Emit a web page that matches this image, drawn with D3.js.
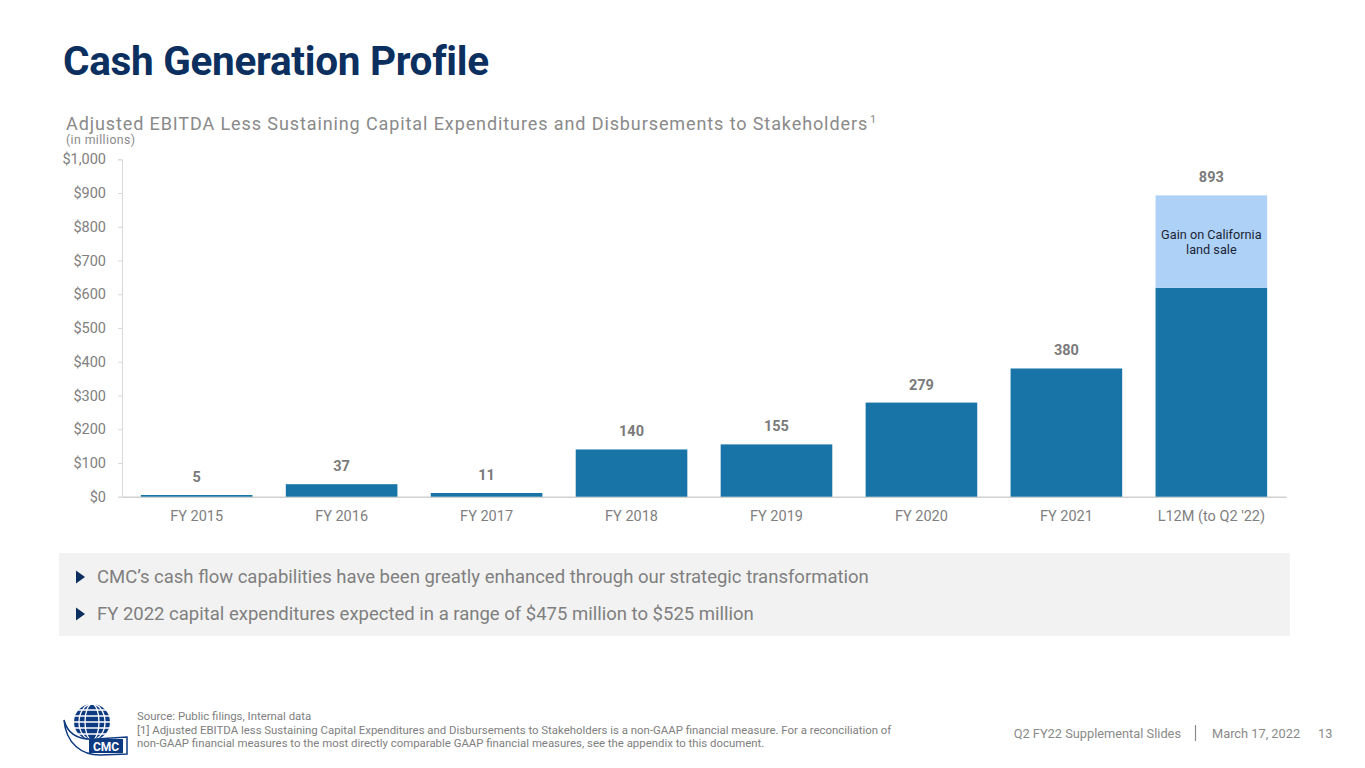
<!DOCTYPE html>
<html>
<head>
<meta charset="utf-8">
<script src="https://cdn.jsdelivr.net/npm/d3@7"></script>
<style>
  body { margin: 0; background: #fff; }
  svg { font-family: Roboto, "Open Sans", sans-serif; }
</style>
</head>
<body>
<svg id="slide"></svg>
<script>
// chart data
var categories = ["FY 2015", "FY 2016", "FY 2017", "FY 2018", "FY 2019", "FY 2020", "FY 2021", "L12M (to Q2 '22)"];
var baseValues = [5, 37, 11, 140, 155, 279, 380, 619];
var gainValues = [0, 0, 0, 0, 0, 0, 0, 274];
var totalLabels = ["5", "37", "11", "140", "155", "279", "380", "893"];
var yTicks = [0, 100, 200, 300, 400, 500, 600, 700, 800, 900, 1000];
var bullets = [
    "CMC\u2019s cash flow capabilities have been greatly enhanced through our strategic transformation",
    "FY 2022 capital expenditures expected in a range of $475 million to $525 million"
];
var footnotes = [
    "Source: Public filings, Internal data",
    "[1] Adjusted EBITDA less Sustaining Capital Expenditures and Disbursements to Stakeholders is a non-GAAP financial measure. For a reconciliation of",
    "non-GAAP financial measures to the most directly comparable GAAP financial measures, see the appendix to this document."
];

var width = 1365, height = 768;
var navy = "#0b2f5e", barColor = "#1874a6", gainColor = "#aed1f7", grey = "#808080";

var svg = d3.select("#slide")
    .attr("width", width)
    .attr("height", height);

// title
svg.append("text")
    .attr("x", 63)
    .attr("y", 75)
    .attr("fill", navy)
    .style("font-size", "40.5px")
    .style("font-weight", "bold")
    .style("letter-spacing", "-0.3px")
    .text("Cash Generation Profile");

var sub = svg.append("text")
    .attr("x", 66)
    .attr("y", 130)
    .attr("fill", "#8a8a8a")
    .style("font-size", "18px")
    .style("letter-spacing", "0.9px")
    .text("Adjusted EBITDA Less Sustaining Capital Expenditures and Disbursements to Stakeholders");
sub.append("tspan")
    .attr("dy", -7)
    .attr("dx", 2)
    .style("font-size", "11px")
    .text("1");

svg.append("text")
    .attr("x", 66)
    .attr("y", 144)
    .attr("fill", "#8a8a8a")
    .style("font-size", "12.3px")
    .style("letter-spacing", "0.4px")
    .text("(in millions)");

// scales
var x = d3.scaleBand()
    .domain(categories)
    .range([122, 1286])
    .paddingInner(0.23)
    .paddingOuter(0.13);

var y = d3.scaleLinear()
    .domain([0, 1000])
    .range([496.7, 159.3]);

var yAxis = svg.append("g")
    .attr("transform", "translate(122,0)")
    .call(d3.axisLeft(y).tickValues(yTicks).tickSize(4).tickPadding(12)
        .tickFormat(function (d) { return "$" + d3.format(",")(d); }));
yAxis.select(".domain").attr("stroke", "#d9d9d9");
yAxis.selectAll(".tick line").attr("stroke", "#d9d9d9");
yAxis.selectAll(".tick text")
    .attr("fill", grey)
    .style("font-size", "14.5px")
    .style("font-family", "Roboto, sans-serif");

var xAxis = svg.append("g")
    .attr("transform", "translate(0," + y(0) + ")")
    .call(d3.axisBottom(x).tickSize(0).tickPadding(14));
xAxis.select(".domain").attr("stroke", "#d0d0d0").attr("stroke-width", 1.5);
xAxis.selectAll(".tick text")
    .attr("fill", grey)
    .style("font-size", "14.5px")
    .style("font-family", "Roboto, sans-serif");

// bars
svg.selectAll(".bar")
    .data(categories)
    .enter().append("rect")
    .attr("class", "bar")
    .attr("x", function (d) { return x(d); })
    .attr("width", x.bandwidth())
    .attr("y", function (d, i) { return y(baseValues[i]); })
    .attr("height", function (d, i) { return y(0) - y(baseValues[i]); })
    .attr("fill", barColor);

svg.selectAll(".gain")
    .data(categories.filter(function (d, i) { return gainValues[i] > 0; }))
    .enter().append("rect")
    .attr("class", "gain")
    .attr("x", function (d) { return x(d); })
    .attr("width", x.bandwidth())
    .attr("y", function (d) {
        var i = categories.indexOf(d);
        return y(baseValues[i] + gainValues[i]);
    })
    .attr("height", function (d) {
        var i = categories.indexOf(d);
        return y(baseValues[i]) - y(baseValues[i] + gainValues[i]);
    })
    .attr("fill", gainColor);

// total labels
svg.selectAll(".total")
    .data(categories)
    .enter().append("text")
    .attr("class", "total")
    .attr("x", function (d) { return x(d) + x.bandwidth() / 2; })
    .attr("y", function (d, i) { return y(baseValues[i] + gainValues[i]) - 13; })
    .attr("text-anchor", "middle")
    .attr("fill", "#7a7a7a")
    .style("font-size", "14.5px")
    .style("font-weight", "bold")
    .text(function (d, i) { return totalLabels[i]; });

// gain annotation
var lastCat = categories[categories.length - 1];
var gainLabel = svg.append("text")
    .attr("x", x(lastCat) + x.bandwidth() / 2)
    .attr("y", 239)
    .attr("text-anchor", "middle")
    .attr("fill", "#1b2536")
    .style("font-size", "12.7px");
gainLabel.append("tspan").attr("x", x(lastCat) + x.bandwidth() / 2).text("Gain on California");
gainLabel.append("tspan").attr("x", x(lastCat) + x.bandwidth() / 2).attr("dy", 15).text("land sale");

// bullet box
svg.append("rect")
    .attr("x", 59)
    .attr("y", 553)
    .attr("width", 1231)
    .attr("height", 83)
    .attr("fill", "#f2f2f2");

var bulletG = svg.selectAll(".bullet")
    .data(bullets)
    .enter().append("g")
    .attr("class", "bullet")
    .attr("transform", function (d, i) { return "translate(0," + (583 + i * 37) + ")"; });
bulletG.append("path")
    .attr("d", "M76,-12.5 L85,-6 L76,0.5 Z")
    .attr("fill", navy);
bulletG.append("text")
    .attr("x", 97)
    .attr("y", 0)
    .attr("fill", "#7f7f7f")
    .style("font-size", "18.5px")
    .text(function (d) { return d; });

// footer notes
svg.selectAll(".foot")
    .data(footnotes)
    .enter().append("text")
    .attr("class", "foot")
    .attr("x", 137)
    .attr("y", function (d, i) { return 720 + i * 13.5; })
    .attr("fill", "#808080")
    .style("font-size", "11.4px")
    .text(function (d) { return d; });

var right = svg.append("g").attr("fill", "#8a8a8a").style("font-size", "12.8px");
right.append("text").attr("x", 1181).attr("y", 738).attr("text-anchor", "end").text("Q2 FY22 Supplemental Slides");
right.append("line").attr("x1", 1195.5).attr("x2", 1195.5).attr("y1", 725).attr("y2", 741)
    .attr("stroke", "#8a8a8a").attr("stroke-width", 1.2);
right.append("text").attr("x", 1212).attr("y", 738).text("March 17, 2022");
right.append("text").attr("x", 1318).attr("y", 738).text("13");

// logo: globe with banner
var logo = svg.append("g").attr("transform", "translate(92,722)");
logo.append("circle").attr("r", 18).attr("fill", "#0d3a80");
[-12, -6, 0, 6, 12].forEach(function (dy) {
    logo.append("line")
        .attr("x1", -19).attr("x2", 19).attr("y1", dy).attr("y2", dy)
        .attr("stroke", "#fff").attr("stroke-width", 1.3);
});
[0, 7, 13].forEach(function (rx) {
    logo.append("ellipse")
        .attr("rx", rx).attr("ry", 18)
        .attr("fill", "none").attr("stroke", "#fff").attr("stroke-width", 1.3);
});
logo.append("path")
    .attr("d", "M-28,-2 C-24,14 -10,18 4,17 L35,15 L35,32 L8,33 C-10,33 -26,22 -28,-2 Z")
    .attr("fill", "#fff").attr("stroke", "#0d3a80").attr("stroke-width", 1.5);
logo.append("rect").attr("x", -3).attr("y", 17).attr("width", 34).attr("height", 14).attr("fill", "#0d3a80");
logo.append("text")
    .attr("x", 14).attr("y", 28.5)
    .attr("text-anchor", "middle")
    .attr("fill", "#fff")
    .style("font-size", "12px")
    .style("font-weight", "bold")
    .text("CMC");
</script>
</body>
</html>
